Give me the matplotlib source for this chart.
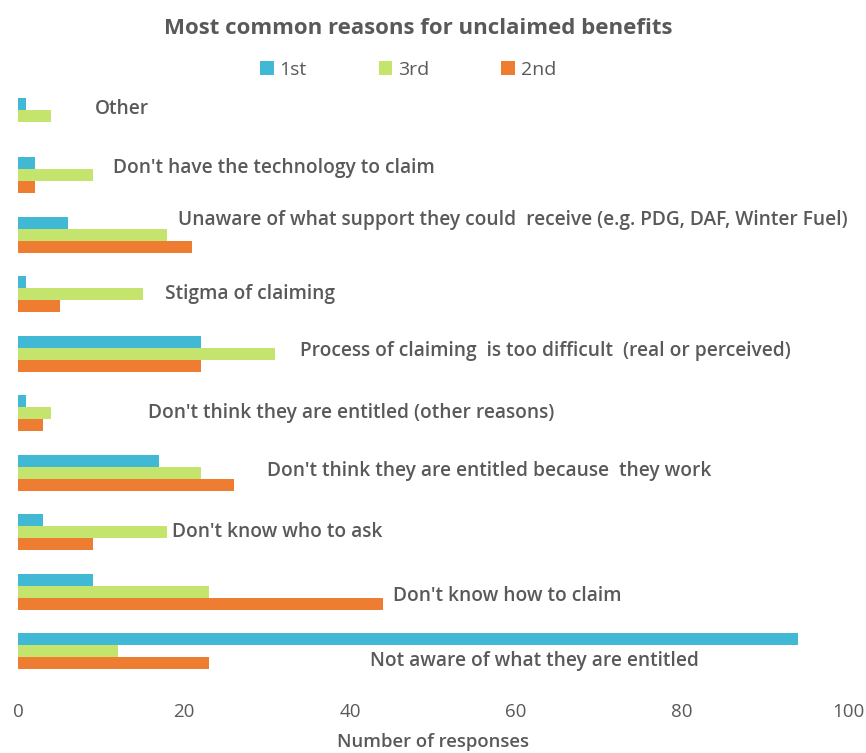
import matplotlib
matplotlib.use("Agg")
import matplotlib.pyplot as plt
import numpy as np

# Categories listed bottom-to-top as drawn on the chart
categories = [
    "Not aware of what they are entitled",
    "Don't know how to claim",
    "Don't know who to ask",
    "Don't think they are entitled because  they work",
    "Don't think they are entitled (other reasons)",
    "Process of claiming  is too difficult  (real or perceived)",
    "Stigma of claiming",
    "Unaware of what support they could  receive (e.g. PDG, DAF, Winter Fuel)",
    "Don't have the technology to claim",
    "Other",
]
first = [94, 9, 3, 17, 1, 22, 1, 6, 2, 1]
third = [12, 23, 18, 22, 4, 31, 15, 18, 9, 4]
second = [23, 44, 9, 26, 3, 22, 5, 21, 2, 0]

x_ticks = [0, 20, 40, 60, 80, 100]

# Label anchor (x in data units, y offset from group centre)
label_x = [42.4, 45.2, 18.6, 30.0, 15.7, 34.0, 17.7, 19.3, 11.4, 9.3]
label_dy = [-0.17, -0.07, 0.0, 0.03, 0.0, 0.05, 0.0, 0.24, 0.13, 0.12]

C_FIRST = "#41B9D4"
C_THIRD = "#C5E46E"
C_SECOND = "#EE7D32"
TXT = "#595959"

plt.rcParams["font.family"] = ["Open Sans", "DejaVu Sans"]

fig = plt.figure(figsize=(8.66, 7.53), dpi=100)
ax = fig.add_axes([18 / 866, 1 - 681 / 753, 830 / 866, 595 / 753])

y = np.arange(len(categories))
h = 0.2
ax.barh(y + h, first, height=h, color=C_FIRST, linewidth=0, label="1st")
ax.barh(y, third, height=h, color=C_THIRD, linewidth=0, label="3rd")
ax.barh(y - h, second, height=h, color=C_SECOND, linewidth=0, label="2nd")

for i, name in enumerate(categories):
    ax.text(label_x[i], y[i] + label_dy[i], name, ha="left", va="center",
            fontsize=13.75, fontweight="semibold", color=TXT)

ax.set_xlim(0, 100)
ax.set_ylim(-0.5, len(categories) - 0.5)
ax.set_xticks(x_ticks)
ax.set_yticks([])
ax.tick_params(axis="x", length=0, labelsize=13.5, labelcolor=TXT, pad=16)
for s in ax.spines.values():
    s.set_visible(False)

fig.text(418 / 866, 1 - 28 / 753, "Most common reasons for unclaimed benefits",
         ha="center", va="center", fontsize=16, fontweight="bold", color=TXT)
fig.text(433 / 866, 1 - 742 / 753, "Number of responses",
         ha="center", va="center", fontsize=13.3, fontweight="semibold", color=TXT)

handles, labels = ax.get_legend_handles_labels()
fig.legend(handles, labels, loc="center", bbox_to_anchor=(408 / 866, 1 - 70 / 753),
           ncol=3, frameon=False, fontsize=14, labelcolor=TXT,
           handlelength=0.7, handleheight=0.7, handletextpad=0.3, columnspacing=3.7)

fig.savefig("out.png", dpi=100)
